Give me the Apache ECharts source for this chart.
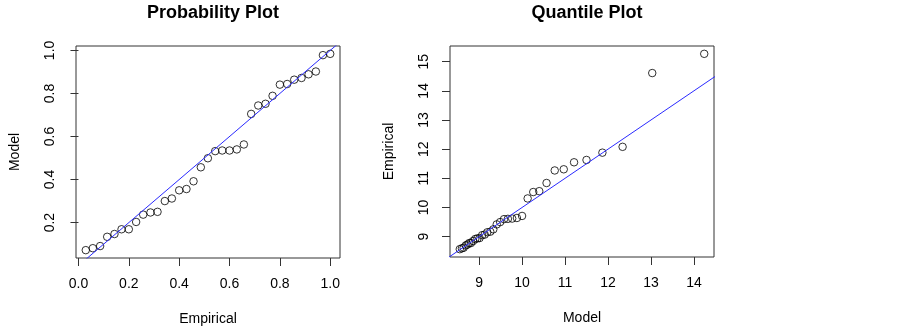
<!DOCTYPE html>
<html>
<head>
<meta charset="utf-8">
<script src="https://cdn.jsdelivr.net/npm/echarts@6/dist/echarts.min.js"></script>
<style>
  html, body { margin: 0; padding: 0; background: #fff; }
  #chart { width: 903px; height: 326px; }
</style>
</head>
<body>
<div id="chart"></div>
<script>
// probability plot : empirical cdf vs model cdf
var probEmpirical = [0.029, 0.057, 0.086, 0.114, 0.143, 0.171, 0.200, 0.229, 0.257, 0.286,
    0.314, 0.343, 0.371, 0.400, 0.429, 0.457, 0.486, 0.514, 0.543, 0.571,
    0.600, 0.629, 0.657, 0.686, 0.714, 0.743, 0.771, 0.800, 0.829, 0.857,
    0.886, 0.914, 0.943, 0.971, 1.000];
var probModel = [0.072, 0.081, 0.091, 0.134, 0.147, 0.169, 0.169, 0.203, 0.237, 0.247,
    0.250, 0.300, 0.312, 0.350, 0.356, 0.392, 0.457, 0.499, 0.532, 0.535,
    0.535, 0.540, 0.563, 0.705, 0.744, 0.752, 0.789, 0.841, 0.844, 0.864,
    0.872, 0.889, 0.902, 0.978, 0.984];

// quantile plot : model quantiles vs sorted data
var quantModel = [8.55, 8.60, 8.64, 8.69, 8.73, 8.77, 8.81, 8.86, 8.91, 8.96,
    9.01, 9.07, 9.13, 9.19, 9.26, 9.33, 9.41, 9.49, 9.58, 9.67,
    9.77, 9.88, 10.00, 10.13, 10.26, 10.40, 10.57, 10.76, 10.97, 11.21,
    11.50, 11.87, 12.34, 13.03, 14.24];
var quantEmpirical = [8.57, 8.60, 8.62, 8.70, 8.73, 8.78, 8.78, 8.85, 8.92, 8.94,
    8.95, 9.05, 9.07, 9.15, 9.17, 9.25, 9.42, 9.50, 9.60, 9.61,
    9.62, 9.64, 9.71, 10.31, 10.53, 10.56, 10.84, 11.27, 11.31, 11.55,
    11.63, 11.88, 12.08, 14.61, 15.27];

// tick labels
var probTicks = [0.0, 0.2, 0.4, 0.6, 0.8, 1.0];
var probYTicks = [0.2, 0.4, 0.6, 0.8, 1.0];
var quantXTicks = [9, 10, 11, 12, 13, 14];
var quantYTicks = [9, 10, 11, 12, 13, 14, 15];

var FONT = "'Liberation Sans', Arial, sans-serif";

// R style range : data range + 4% each side
function rRange(arr) {
    var lo = Math.min.apply(null, arr), hi = Math.max.apply(null, arr);
    var e = (hi - lo) * 0.04;
    return [lo - e, hi + e];
}
function pairs(a, b) {
    var out = [];
    for (var i = 0; i < a.length; i++) out.push([a[i], b[i]]);
    return out;
}

var px = rRange(probEmpirical), py = rRange(probModel);
var qx = rRange(quantModel), qy = rRange(quantEmpirical);

function xAxisOpt(idx, rng, ticks, name, fmt) {
    return {
        type: 'value', gridIndex: idx, min: rng[0], max: rng[1],
        name: name, nameLocation: 'middle', nameGap: 54,
        nameTextStyle: { fontSize: 14, color: '#000', fontFamily: FONT },
        axisLine: { show: false },
        axisTick: { show: true, inside: false, length: 8, customValues: ticks,
            lineStyle: { color: '#333', width: 1 } },
        axisLabel: { customValues: ticks, margin: 19, fontSize: 14, color: '#000',
            fontFamily: FONT, formatter: fmt },
        splitLine: { show: false }
    };
}
function yAxisOpt(idx, rng, ticks, name, fmt) {
    return {
        type: 'value', gridIndex: idx, min: rng[0], max: rng[1],
        name: name, nameLocation: 'middle', nameGap: 54,
        nameTextStyle: { fontSize: 14, color: '#000', fontFamily: FONT },
        axisLine: { show: false },
        axisTick: { show: true, inside: false, length: 8, customValues: ticks,
            lineStyle: { color: '#333', width: 1 } },
        axisLabel: { customValues: ticks, margin: 19, rotate: 90, fontSize: 14, color: '#000',
            fontFamily: FONT, formatter: fmt },
        splitLine: { show: false }
    };
}

var fmt1 = function (v) { return v.toFixed(1); };
var fmt0 = function (v) { return String(Math.round(v)); };

var pointStyle = { color: 'rgba(0,0,0,0)', borderColor: '#000', borderWidth: 1 };
var lineStyle = { color: '#2a2aff', width: 1 };

var myChart = echarts.init(document.getElementById('chart'), null, { renderer: 'canvas' });
var option = {
    animation: false,
    backgroundColor: '#fff',
    title: [
        { text: 'Probability Plot', left: 208, top: -1, textAlign: 'center',
          textStyle: { fontSize: 18, fontWeight: 'bold', color: '#000', fontFamily: FONT } },
        { text: 'Quantile Plot', left: 582, top: -1, textAlign: 'center',
          textStyle: { fontSize: 18, fontWeight: 'bold', color: '#000', fontFamily: FONT } }
    ],
    grid: [
        { left: 76, top: 46, width: 264, height: 212, show: true, outerBoundsMode: 'none',
          borderColor: '#333', borderWidth: 1, backgroundColor: 'transparent' },
        { left: 450, top: 46, width: 264, height: 211, show: true, outerBoundsMode: 'none',
          borderColor: '#333', borderWidth: 1, backgroundColor: 'transparent' }
    ],
    xAxis: [
        xAxisOpt(0, px, probTicks, 'Empirical', fmt1),
        xAxisOpt(1, qx, quantXTicks, 'Model', fmt0)
    ],
    yAxis: [
        yAxisOpt(0, py, probYTicks, 'Model', fmt1),
        yAxisOpt(1, qy, quantYTicks, 'Empirical', fmt0)
    ],
    series: [
        { type: 'line', xAxisIndex: 0, yAxisIndex: 0, clip: true, symbol: 'none',
          lineStyle: lineStyle, silent: true,
          data: [[Math.min(px[0], py[0]), Math.min(px[0], py[0])], [Math.max(px[1], py[1]), Math.max(px[1], py[1])]] },
        { type: 'scatter', xAxisIndex: 0, yAxisIndex: 0, symbol: 'circle', symbolSize: 7.5,
          itemStyle: pointStyle, data: pairs(probEmpirical, probModel) },
        { type: 'line', xAxisIndex: 1, yAxisIndex: 1, clip: true, symbol: 'none',
          lineStyle: lineStyle, silent: true,
          data: [[Math.min(qx[0], qy[0]), Math.min(qx[0], qy[0])], [Math.max(qx[1], qy[1]), Math.max(qx[1], qy[1])]] },
        { type: 'scatter', xAxisIndex: 1, yAxisIndex: 1, symbol: 'circle', symbolSize: 7.5,
          itemStyle: pointStyle, data: pairs(quantModel, quantEmpirical) }
    ]
};
myChart.setOption(option);
</script>
</body>
</html>
